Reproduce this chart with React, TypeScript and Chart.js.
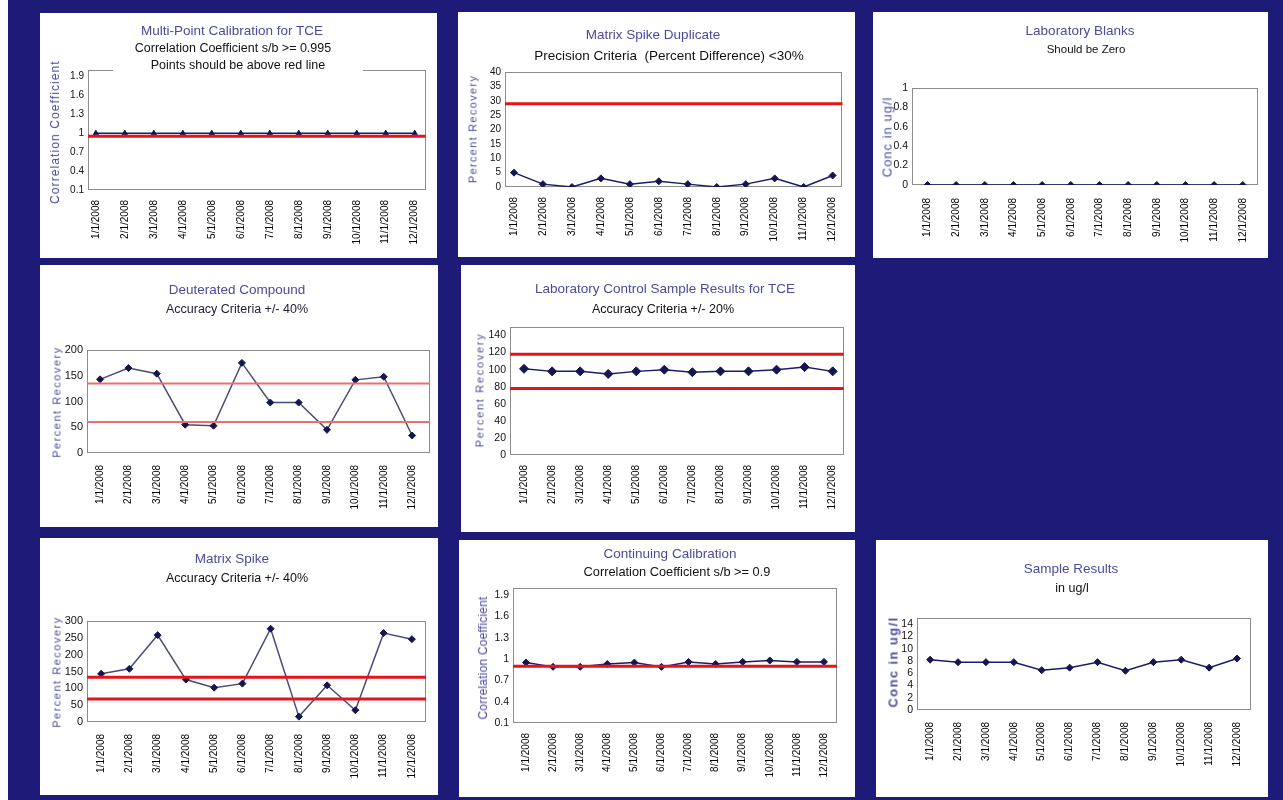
import React, { useEffect, useRef } from "react";
import { Chart, registerables } from "chart.js";

Chart.register(...registerables);

// ---------- data ----------
const categories = [
  "1/1/2008", "2/1/2008", "3/1/2008", "4/1/2008", "5/1/2008", "6/1/2008",
  "7/1/2008", "8/1/2008", "9/1/2008", "10/1/2008", "11/1/2008", "12/1/2008",
];

const calibrationValues = [1, 1, 1, 1, 1, 1, 1, 1, 1, 1, 1, 1];
const calibrationLimits = [0.95];
const calibrationTicks = [0.1, 0.4, 0.7, 1, 1.3, 1.6, 1.9];

const duplicateValues = [5, 1, 0, 3, 1, 2, 1, 0, 1, 3, 0, 4];
const duplicateLimits = [29];
const duplicateTicks = [0, 5, 10, 15, 20, 25, 30, 35, 40];

const blankValues = [0, 0, 0, 0, 0, 0, 0, 0, 0, 0, 0, 0];
const blankLimits: number[] = [];
const blankTicks = [0, 0.2, 0.4, 0.6, 0.8, 1];

const deuteratedValues = [143, 165, 154, 55, 53, 175, 98, 98, 45, 142, 148, 34];
const deuteratedLimits = [135, 60];
const deuteratedTicks = [0, 50, 100, 150, 200];

const lcsValues = [101, 98, 98, 95, 98, 100, 97, 98, 98, 100, 103, 98];
const lcsLimits = [118, 78];
const lcsTicks = [0, 20, 40, 60, 80, 100, 120, 140];

const spikeValues = [143, 158, 258, 126, 102, 114, 277, 16, 109, 35, 264, 246];
const spikeLimits = [133, 68];
const spikeTicks = [0, 50, 100, 150, 200, 250, 300];

const continuingValues = [0.95, 0.89, 0.89, 0.93, 0.95, 0.89, 0.96, 0.93, 0.96, 0.98, 0.96, 0.96];
const continuingLimits = [0.9];
const continuingTicks = [0.1, 0.4, 0.7, 1, 1.3, 1.6, 1.9];

const sampleValues = [8.2, 7.8, 7.8, 7.8, 6.5, 6.9, 7.8, 6.4, 7.8, 8.2, 6.9, 8.4];
const sampleLimits: number[] = [];
const sampleTicks = [0, 2, 4, 6, 8, 10, 12, 14];

// ---------- styling / layout ----------
const SANS = "'Liberation Sans', Arial, Helvetica, sans-serif";
const NARROW = "'Liberation Sans Narrow', 'Arial Narrow', 'Liberation Sans', Arial, sans-serif";
const TITLE_COLOR = "#4a4c9a";
const AXIS_TITLE_COLOR = "#4a4e9c";
const NAVY = "#1b1c66";
const RED = "#e3141b";

type TextLine = { text: string; cx: number; cy: number; size: number; color: string; bg?: boolean };

type PanelCfg = {
  box: [number, number, number, number];
  plot: [number, number, number, number];
  lines: TextLine[];
  yTitle: { text: string; cx: number; cy: number; size: number; spacing: number; bold?: boolean };
  values: number[];
  limits: number[];
  ticks: number[];
  yMin: number;
  yMax: number;
  xMin: number;
  xMax: number;
  lineColor: string;
  pointStyle: string;
  pointRadius: number;
  limitColor: string;
  limitWidth: number;
  yTickSize: number;
  xPad: number;
};

const panels: PanelCfg[] = [
  {
    box: [40, 13, 397, 245],
    plot: [88, 70, 429, 190],
    lines: [
      { text: "Multi-Point Calibration for TCE", cx: 232, cy: 31, size: 13.5, color: TITLE_COLOR },
      { text: "Correlation Coefficient s/b >= 0.995", cx: 233, cy: 48, size: 12.5, color: "#111" },
      { text: "Points should be above red line", cx: 238, cy: 65, size: 12.5, color: "#111", bg: true },
    ],
    yTitle: { text: "Correlation Coefficient", cx: 55, cy: 132, size: 12, spacing: 1.1 },
    values: calibrationValues, limits: calibrationLimits, ticks: calibrationTicks,
    yMin: 0.1, yMax: 2.0, xMin: -0.27, xMax: 11.38,
    lineColor: NAVY, pointStyle: "triangle", pointRadius: 3,
    limitColor: RED, limitWidth: 3, yTickSize: 10, xPad: 10,
  },
  {
    box: [458, 12, 397, 245],
    plot: [505, 72, 843, 187],
    lines: [
      { text: "Matrix Spike Duplicate", cx: 653, cy: 35, size: 13.5, color: TITLE_COLOR },
      { text: "Precision Criteria  (Percent Difference) <30%", cx: 669, cy: 56, size: 13.5, color: "#111" },
    ],
    yTitle: { text: "Percent Recovery", cx: 473, cy: 129, size: 11, spacing: 1.3 },
    values: duplicateValues, limits: duplicateLimits, ticks: duplicateTicks,
    yMin: 0, yMax: 40, xMin: -0.31, xMax: 11.34,
    lineColor: NAVY, pointStyle: "rectRot", pointRadius: 3.5,
    limitColor: RED, limitWidth: 3, yTickSize: 10, xPad: 10,
  },
  {
    box: [873, 12, 395, 246],
    plot: [912, 88, 1263, 185],
    lines: [
      { text: "Laboratory Blanks", cx: 1080, cy: 31, size: 13.5, color: TITLE_COLOR },
      { text: "Should be Zero", cx: 1086, cy: 50, size: 11.5, color: "#111" },
    ],
    yTitle: { text: "Conc in ug/l", cx: 887, cy: 137, size: 13, spacing: 1 },
    values: blankValues, limits: blankLimits, ticks: blankTicks,
    yMin: 0, yMax: 1, xMin: -0.54, xMax: 11.52,
    lineColor: NAVY, pointStyle: "rectRot", pointRadius: 3.5,
    limitColor: RED, limitWidth: 3, yTickSize: 10.5, xPad: 13,
  },
  {
    box: [40, 265, 398, 262],
    plot: [87, 350, 430, 453],
    lines: [
      { text: "Deuterated Compound", cx: 237, cy: 290, size: 13.5, color: TITLE_COLOR },
      { text: "Accuracy Criteria +/- 40%", cx: 237, cy: 309, size: 12.5, color: "#22223a" },
    ],
    yTitle: { text: "Percent Recovery", cx: 57, cy: 402, size: 11, spacing: 1.5 },
    values: deuteratedValues, limits: deuteratedLimits, ticks: deuteratedTicks,
    yMin: 0, yMax: 200, xMin: -0.46, xMax: 11.63,
    lineColor: "#4a4c78", pointStyle: "rectRot", pointRadius: 3.5,
    limitColor: "#e8706e", limitWidth: 2, yTickSize: 11, xPad: 12,
  },
  {
    box: [461, 265, 394, 267],
    plot: [510, 327, 845, 455],
    lines: [
      { text: "Laboratory Control Sample Results for TCE", cx: 665, cy: 289, size: 13.5, color: TITLE_COLOR },
      { text: "Accuracy Criteria +/- 20%", cx: 663, cy: 309, size: 12.5, color: "#111" },
    ],
    yTitle: { text: "Percent Recovery", cx: 480, cy: 390, size: 11, spacing: 1.7 },
    values: lcsValues, limits: lcsLimits, ticks: lcsTicks,
    yMin: 0, yMax: 150, xMin: -0.5, xMax: 11.39,
    lineColor: NAVY, pointStyle: "rectRot", pointRadius: 4.5,
    limitColor: RED, limitWidth: 3, yTickSize: 10.5, xPad: 10,
  },
  {
    box: [40, 538, 398, 257],
    plot: [87, 621, 426, 722],
    lines: [
      { text: "Matrix Spike", cx: 232, cy: 559, size: 13.5, color: TITLE_COLOR },
      { text: "Accuracy Criteria +/- 40%", cx: 237, cy: 578, size: 12.5, color: "#111" },
    ],
    yTitle: { text: "Percent Recovery", cx: 57, cy: 672, size: 11, spacing: 1.5 },
    values: spikeValues, limits: spikeLimits, ticks: spikeTicks,
    yMin: 0, yMax: 300, xMin: -0.5, xMax: 11.5,
    lineColor: "#4a4c78", pointStyle: "rectRot", pointRadius: 3.5,
    limitColor: RED, limitWidth: 3, yTickSize: 11, xPad: 12,
  },
  {
    box: [459, 540, 396, 257],
    plot: [513, 588, 837, 723],
    lines: [
      { text: "Continuing Calibration", cx: 670, cy: 554, size: 13.5, color: TITLE_COLOR },
      { text: "Correlation Coefficient s/b >= 0.9", cx: 677, cy: 572, size: 12.8, color: "#111" },
    ],
    yTitle: { text: "Correlation Coefficient", cx: 483, cy: 658, size: 12, spacing: 0.2 },
    values: continuingValues, limits: continuingLimits, ticks: continuingTicks,
    yMin: 0.1, yMax: 2.0, xMin: -0.48, xMax: 11.48,
    lineColor: NAVY, pointStyle: "rectRot", pointRadius: 3.5,
    limitColor: RED, limitWidth: 3, yTickSize: 10.5, xPad: 10,
  },
  {
    box: [876, 540, 392, 257],
    plot: [917, 618, 1251, 710],
    lines: [
      { text: "Sample Results", cx: 1071, cy: 569, size: 13.5, color: TITLE_COLOR },
      { text: "in ug/l", cx: 1072, cy: 588, size: 12.5, color: "#111" },
    ],
    yTitle: { text: "Conc in ug/l", cx: 893, cy: 662, size: 13, spacing: 1.4, bold: true },
    values: sampleValues, limits: sampleLimits, ticks: sampleTicks,
    yMin: 0, yMax: 15, xMin: -0.47, xMax: 11.5,
    lineColor: NAVY, pointStyle: "rectRot", pointRadius: 3.5,
    limitColor: RED, limitWidth: 3, yTickSize: 10.5, xPad: 12,
  },
];

// ---------- plugins ----------
const framePlugin = {
  id: "frame",
  beforeDatasetsDraw(chart: any) {
    const { ctx, chartArea } = chart;
    const { left, top, right, bottom } = chartArea;
    ctx.save();
    ctx.strokeStyle = "#8c8c8c";
    ctx.lineWidth = 1;
    ctx.strokeRect(Math.round(left) + 0.5, Math.round(top) + 0.5, Math.round(right - left) - 1, Math.round(bottom - top) - 1);
    ctx.restore();
  },
};

const limitsPlugin = {
  id: "limits",
  afterDatasetsDraw(chart: any, _args: any, opts: any) {
    const { ctx, chartArea, scales } = chart;
    const vals: number[] = opts.values || [];
    ctx.save();
    ctx.strokeStyle = opts.color;
    ctx.lineWidth = opts.width;
    vals.forEach((v) => {
      const y = scales.y.getPixelForValue(v);
      ctx.beginPath();
      ctx.moveTo(chartArea.left, y);
      ctx.lineTo(chartArea.right, y);
      ctx.stroke();
    });
    ctx.restore();
  },
};

// ---------- components ----------
function Panel({ cfg }: { cfg: PanelCfg }) {
  const ref = useRef<HTMLCanvasElement>(null);
  const [bx, by, bw, bh] = cfg.box;
  const [pl, pt, pr, pb] = cfg.plot;

  useEffect(() => {
    const chart = new Chart(ref.current as HTMLCanvasElement, {
      type: "line",
      data: {
        datasets: [
          {
            data: cfg.values.map((v, i) => ({ x: i, y: v })),
            borderColor: cfg.lineColor,
            borderWidth: 1.5,
            pointStyle: cfg.pointStyle as any,
            pointRadius: cfg.pointRadius,
            pointBackgroundColor: "#15164f",
            pointBorderColor: "#15164f",
            pointBorderWidth: 1,
            tension: 0,
          },
        ],
      },
      options: {
        animation: false,
        responsive: false,
        maintainAspectRatio: false,
        devicePixelRatio: 1,
        layout: { padding: { left: 0, top: pt - by, right: bx + bw - pr, bottom: 0 } },
        plugins: {
          legend: { display: false },
          tooltip: { enabled: false },
          title: { display: false },
          limits: { values: cfg.limits, color: cfg.limitColor, width: cfg.limitWidth },
        } as any,
        scales: {
          x: {
            type: "linear",
            min: cfg.xMin,
            max: cfg.xMax,
            grid: { display: false, drawTicks: false },
            border: { display: false },
            afterBuildTicks: (s: any) => {
              s.ticks = categories.map((_, i) => ({ value: i }));
            },
            afterFit: (s: any) => {
              s.height = by + bh - pb;
            },
            ticks: {
              autoSkip: false,
              minRotation: 90,
              maxRotation: 90,
              padding: cfg.xPad,
              color: "#000",
              font: { family: SANS, size: 10 },
              callback: (_v: any, i: number) => categories[i],
            },
          },
          y: {
            type: "linear",
            min: cfg.yMin,
            max: cfg.yMax,
            grid: { display: false, drawTicks: false },
            border: { display: false },
            afterBuildTicks: (s: any) => {
              s.ticks = cfg.ticks.map((v) => ({ value: v }));
            },
            afterFit: (s: any) => {
              s.width = pl - bx;
            },
            ticks: {
              autoSkip: false,
              padding: 4,
              color: "#111",
              font: { family: NARROW, size: cfg.yTickSize },
              callback: (v: any) => String(v),
            },
          },
        },
      } as any,
      plugins: [framePlugin, limitsPlugin],
    });
    return () => chart.destroy();
  }, []);

  return (
    <div
      style={{
        position: "absolute",
        left: bx - 8,
        top: by,
        width: bw,
        height: bh,
        background: "#fff",
        overflow: "hidden",
      }}
    >
      <canvas
        ref={ref}
        width={bw}
        height={bh}
        style={{ position: "absolute", left: 0, top: 0, width: bw, height: bh }}
      />
      {cfg.lines.map((ln, i) => (
        <div
          key={i}
          style={{
            position: "absolute",
            left: ln.cx - bx - 250,
            width: 500,
            top: ln.cy - by - ln.size * 0.6,
            height: ln.size * 1.2,
            lineHeight: `${ln.size * 1.2}px`,
            textAlign: "center",
            fontFamily: SANS,
            fontSize: ln.size,
            color: ln.color,
            whiteSpace: "pre",
          }}
        >
          <span style={ln.bg ? { background: "#fff", padding: "0 38px" } : undefined}>{ln.text}</span>
        </div>
      ))}
      <div
        style={{
          position: "absolute",
          left: cfg.yTitle.cx - bx,
          top: cfg.yTitle.cy - by,
          transform: "translate(-50%, -50%) rotate(-90deg)",
          whiteSpace: "nowrap",
          fontFamily: SANS,
          fontSize: cfg.yTitle.size,
          letterSpacing: cfg.yTitle.spacing,
          fontWeight: cfg.yTitle.bold ? "bold" : "normal",
          color: AXIS_TITLE_COLOR,
          lineHeight: 1,
        }}
      >
        {cfg.yTitle.text}
      </div>
    </div>
  );
}

export default function App() {
  return (
    <div
      style={{
        position: "fixed",
        left: 8,
        top: 0,
        width: 1275,
        height: 800,
        background: "#1e1b78",
        overflow: "hidden",
      }}
    >
      {panels.map((p, i) => (
        <Panel key={i} cfg={p} />
      ))}
    </div>
  );
}
